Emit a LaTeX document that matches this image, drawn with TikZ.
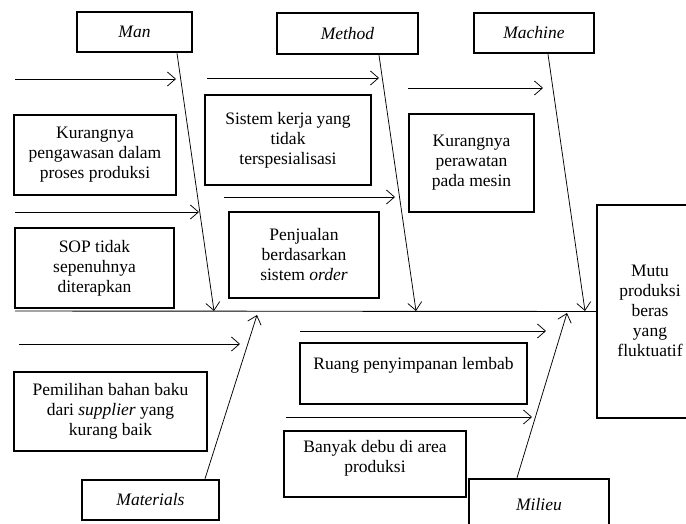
\documentclass[tikz,border=0pt]{standalone}
\usepackage{fontspec}
\setmainfont{Liberation Serif}
\usetikzlibrary{arrows.meta}
\begin{document}
\begin{tikzpicture}[x=1pt,y=-1pt,
  txt/.style={align=center, inner sep=0pt, font=\fontsize{17.5}{20}\selectfont},
  box/.style={draw, line width=2.5pt, txt},
  cat/.style={box, font=\fontsize{17.5}{20}\selectfont\itshape},
  arr/.style={line width=0.75pt, -{Straight Barb[length=8pt,width=14pt,line width=0.75pt]}},
  spine/.style={line width=0.9pt}
]
\useasboundingbox (0,0) rectangle (686,524);
\clip (0,0) rectangle (686,524);

% category boxes
\node[cat, minimum width=115pt, minimum height=40pt] (man) at (134.5,32) {Man};
\node[cat, minimum width=141pt, minimum height=41pt] (method) at (347.5,33.5) {Method};
\node[cat, minimum width=120pt, minimum height=40pt] (machine) at (534,33) {Machine};
\node[cat, minimum width=137pt, minimum height=40pt] (materials) at (150.5,500) {Materials};
\node[cat, minimum width=140pt, minimum height=52pt] (milieu) at (539,505) {};
\node[txt, font=\fontsize{17.5}{20}\selectfont\itshape] (milieuT) at (539,505) {Milieu};

% effect
\node[box, minimum width=106pt, minimum height=213pt] (effect) at (650,311.5) {};
\node[txt] (effectT) at (650,311) {Mutu\\produksi\\beras\\yang\\fluktuatif};

% cause boxes
\node[box, minimum width=162pt, minimum height=80pt] (c1) at (95,155) {Kurangnya\\pengawasan dalam\\proses produksi};
\node[box, minimum width=166pt, minimum height=90pt] (c2) at (288,140) {Sistem kerja yang\\tidak\\terspesialisasi};
\node[box, minimum width=125pt, minimum height=98pt] (c3) at (471.5,163) {Kurangnya\\perawatan\\pada mesin};
\node[box, minimum width=159pt, minimum height=80pt] (c4) at (94.5,268) {SOP tidak\\sepenuhnya\\diterapkan};
\node[box, minimum width=150pt, minimum height=86pt] (c5) at (304,255) {Penjualan\\berdasarkan\\sistem \textit{order}};
\node[box, minimum width=227pt, minimum height=61pt] (c6) at (413.5,373.5) {};
\node[txt] (c6T) at (413.5,365) {Ruang penyimpanan lembab};
\node[box, minimum width=193pt, minimum height=79pt] (c7) at (110.5,411.5) {Pemilihan bahan baku\\dari \textit{supplier} yang\\kurang baik};
\node[box, minimum width=182pt, minimum height=66pt] (c8) at (375,464) {};
\node[txt] (c8T) at (375,458) {Banyak debu di area\\produksi};

% spine
\coordinate (spineL) at (15,311);
\draw[spine] (spineL) -- (effect.west);

% bones
\coordinate (manE) at (214,311);
\coordinate (methodE) at (416,311);
\coordinate (machineE) at (585,311);
\coordinate (materialsE) at (257,315);
\coordinate (milieuE) at (567,313);
\draw[arr] ([xshift=42.5pt]man.south) -- (manE);
\draw[arr] ([xshift=31.5pt]method.south) -- (methodE);
\draw[arr] ([xshift=14pt]machine.south) -- (machineE);
\draw[arr] ([xshift=54.5pt]materials.north) -- (materialsE);
\draw[arr] ([xshift=-22pt]milieu.north) -- (milieuE);

% small arrows
\coordinate (a1s) at (15,79);   \coordinate (a1e) at (176,79);
\coordinate (a2s) at (207,78);  \coordinate (a2e) at (379,78);
\coordinate (a3s) at (408,88);  \coordinate (a3e) at (543,88);
\coordinate (a4s) at (15,212);  \coordinate (a4e) at (199,212);
\coordinate (a5s) at (224,197); \coordinate (a5e) at (395,197);
\coordinate (a6s) at (19,344);  \coordinate (a6e) at (240,344);
\coordinate (a7s) at (300,331); \coordinate (a7e) at (546,331);
\coordinate (a8s) at (286,417); \coordinate (a8e) at (532,417);
\foreach \i in {1,...,8} {\draw[arr] (a\i s) -- (a\i e);}
\end{tikzpicture}
\end{document}
